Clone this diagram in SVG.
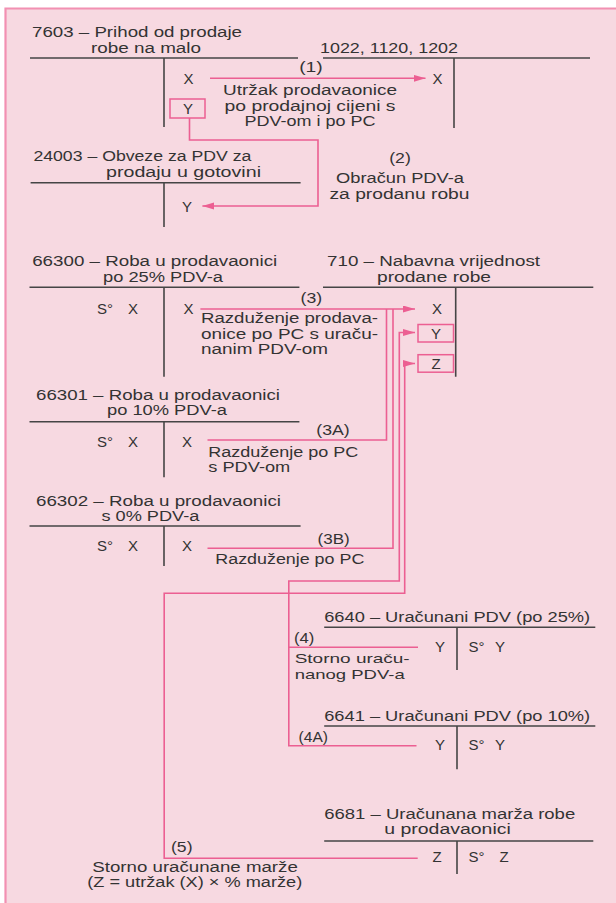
<svg xmlns="http://www.w3.org/2000/svg" width="616" height="903" viewBox="0 0 616 903">
<defs>
<style>
text{font-family:"Liberation Sans",Arial,sans-serif;font-size:14px;fill:#333333}
.m{text-anchor:middle}
.v{font-size:15px}
.s{font-size:13px}
.tl{fill:none;stroke:#454545;stroke-width:1.6}
.cn{fill:none;stroke:#ec5f92;stroke-width:1.6}
.bx{fill:none;stroke:#ec5f92;stroke-width:1.5}
.ar{marker-end:url(#ah)}
</style>
<marker id="ah" markerUnits="userSpaceOnUse" markerWidth="13" markerHeight="8" refX="12" refY="3.5" orient="auto">
<path d="M0,0 L12,3.5 L0,7 z" fill="#ec5f92"/>
</marker>
</defs>
<rect x="5.5" y="8.5" width="611" height="895" fill="#f7d9e1"/>
<path d="M5.5,903 V8.5 H616" fill="none" stroke="#f290b2" stroke-width="2.2"/>

<g id="n7603">
<text x="32" y="37" textLength="210" lengthAdjust="spacingAndGlyphs">7603 – Prihod od prodaje</text>
<text x="91" y="52.5" textLength="110" lengthAdjust="spacingAndGlyphs">robe na malo</text>
<path class="tl" d="M30,58 H298 M164,58 V127"/>
<text class="m v" x="188.6" y="83.5">X</text>
<rect class="bx" x="170" y="99" width="35" height="19"/>
<text class="m v" x="188" y="114">Y</text>
</g>

<g id="n1022">
<text x="320" y="52.5" textLength="138" lengthAdjust="spacingAndGlyphs">1022, 1120, 1202</text>
<path class="tl" d="M323,58 H590 M454,58 V128"/>
<text class="m v" x="437.5" y="83.5">X</text>
</g>

<g id="n24003">
<text x="33.4" y="160.5" textLength="218" lengthAdjust="spacingAndGlyphs">24003 – Obveze za PDV za</text>
<text x="106" y="176.5" textLength="155" lengthAdjust="spacingAndGlyphs">prodaju u gotovini</text>
<path class="tl" d="M30.6,182.7 H300.6 M164,182.7 V227"/>
<text class="m v" x="187" y="211.5">Y</text>
</g>

<g id="n66300">
<text x="32.2" y="266" textLength="245" lengthAdjust="spacingAndGlyphs">66300 – Roba u prodavaonici</text>
<text x="103" y="281.7" textLength="120" lengthAdjust="spacingAndGlyphs">po 25% PDV-a</text>
<path class="tl" d="M29.5,287.3 H299.4 M164,287.3 V376.7"/>
<text class="v" x="97" y="313.5">S°</text>
<text class="m v" x="133" y="313.5">X</text>
<text class="m v" x="188.6" y="313.5">X</text>
</g>

<g id="n710">
<text x="327" y="266" textLength="213" lengthAdjust="spacingAndGlyphs">710 – Nabavna vrijednost</text>
<text x="377" y="281.7" textLength="114" lengthAdjust="spacingAndGlyphs">prodane robe</text>
<path class="tl" d="M323,287.3 H593.3 M455.7,287.3 V376.7"/>
<text class="m v" x="437" y="313.5">X</text>
<rect class="bx" x="418" y="324.5" width="35.5" height="17.5"/>
<text class="m v" x="436" y="339">Y</text>
<rect class="bx" x="418" y="354.7" width="35.5" height="17.5"/>
<text class="m v" x="436" y="369.3">Z</text>
</g>

<g id="n66301">
<text x="36" y="399.5" textLength="244" lengthAdjust="spacingAndGlyphs">66301 – Roba u prodavaonici</text>
<text x="107" y="415" textLength="120" lengthAdjust="spacingAndGlyphs">po 10% PDV-a</text>
<path class="tl" d="M29.5,421.7 H299.4 M164,421.7 V477.3"/>
<text class="v" x="97" y="447">S°</text>
<text class="m v" x="133" y="447">X</text>
<text class="m v" x="187" y="447">X</text>
</g>

<g id="n66302">
<text x="36" y="506" textLength="245" lengthAdjust="spacingAndGlyphs">66302 – Roba u prodavaonici</text>
<text x="101.4" y="521" textLength="98" lengthAdjust="spacingAndGlyphs">s 0% PDV-a</text>
<path class="tl" d="M29.5,526 H300.6 M164,526 V566"/>
<text class="v" x="97" y="551">S°</text>
<text class="m v" x="133" y="551">X</text>
<text class="m v" x="187" y="551">X</text>
</g>

<g id="n6640">
<text x="324.2" y="621.7" textLength="266" lengthAdjust="spacingAndGlyphs">6640 – Uračunani PDV (po 25%)</text>
<path class="tl" d="M324.2,627.3 H595.3 M457,627.3 V670"/>
<text class="m v" x="440" y="652">Y</text>
<text class="v" x="468.5" y="652">S°</text>
<text class="m v" x="500" y="652">Y</text>
</g>

<g id="n6641">
<text x="324.2" y="720.7" textLength="266" lengthAdjust="spacingAndGlyphs">6641 – Uračunani PDV (po 10%)</text>
<path class="tl" d="M324.2,726 H595.3 M457,726 V769.3"/>
<text class="m v" x="440" y="750">Y</text>
<text class="v" x="468.5" y="750">S°</text>
<text class="m v" x="500" y="750">Y</text>
</g>

<g id="n6681">
<text x="324.2" y="819" textLength="251" lengthAdjust="spacingAndGlyphs">6681 – Uračunana marža robe</text>
<text x="384.3" y="834.3" textLength="126.5" lengthAdjust="spacingAndGlyphs">u prodavaonici</text>
<path class="tl" d="M324.2,841 H593.3 M457,841 V874"/>
<text class="m v" x="437" y="862">Z</text>
<text class="v" x="468.5" y="862">S°</text>
<text class="m v" x="504" y="862">Z</text>
</g>

<g id="connectors">
<path class="cn ar" d="M210,78.3 H425.5"/>
<path class="cn ar" d="M189.5,118 V140 H318 V206 H202.4"/>
<path class="cn ar" d="M200.4,309 H415"/>
<path class="cn" d="M207.5,440 H386.5 V309"/>
<path class="cn" d="M207.5,548.3 H393 V309"/>
<path class="cn ar" d="M418,647.3 H288.8 V581 H399.3 V332.5 H415"/>
<path class="cn" d="M416.5,745.7 H288.8 V647.3"/>
<path class="cn ar" d="M417.7,858.3 H164.2 V593.3 H404.7 V363.5 H415"/>
</g>

<g id="labels">
<text class="m" x="311" y="72" textLength="23.6" lengthAdjust="spacingAndGlyphs">(1)</text>
<text class="m" x="310" y="95" textLength="174" lengthAdjust="spacingAndGlyphs">Utržak prodavaonice</text>
<text class="m" x="310" y="110.5" textLength="171" lengthAdjust="spacingAndGlyphs">po prodajnoj cijeni s</text>
<text class="m" x="310" y="126" textLength="131" lengthAdjust="spacingAndGlyphs">PDV-om i po PC</text>
<text class="m" x="400" y="163" textLength="21.6" lengthAdjust="spacingAndGlyphs">(2)</text>
<text class="m" x="400" y="183" textLength="128" lengthAdjust="spacingAndGlyphs">Obračun PDV-a</text>
<text class="m" x="399.5" y="198.5" textLength="140" lengthAdjust="spacingAndGlyphs">za prodanu robu</text>
<text class="m" x="311.4" y="303.3" textLength="21.6" lengthAdjust="spacingAndGlyphs">(3)</text>
<text x="201" y="323.3" textLength="177" lengthAdjust="spacingAndGlyphs">Razduženje prodava-</text>
<text x="201" y="338.5" textLength="177" lengthAdjust="spacingAndGlyphs">onice po PC s uraču-</text>
<text x="201" y="354" textLength="127" lengthAdjust="spacingAndGlyphs">nanim PDV-om</text>
<text class="m" x="333" y="435" textLength="33.4" lengthAdjust="spacingAndGlyphs">(3A)</text>
<text x="208.3" y="457.3" textLength="150" lengthAdjust="spacingAndGlyphs">Razduženje po PC</text>
<text x="208.3" y="472.3" textLength="82" lengthAdjust="spacingAndGlyphs">s PDV-om</text>
<text class="m" x="333.6" y="544" textLength="32.2" lengthAdjust="spacingAndGlyphs">(3B)</text>
<text x="215.3" y="564" textLength="149" lengthAdjust="spacingAndGlyphs">Razduženje po PC</text>
<text x="294" y="643.3" textLength="20.3" lengthAdjust="spacingAndGlyphs">(4)</text>
<text class="s" x="294.7" y="663" textLength="115" lengthAdjust="spacingAndGlyphs">Storno uraču-</text>
<text class="s" x="294.7" y="678.5" textLength="110" lengthAdjust="spacingAndGlyphs">nanog PDV-a</text>
<text x="298.6" y="741.7" textLength="29.4" lengthAdjust="spacingAndGlyphs">(4A)</text>
<text x="171" y="851.7" textLength="21.5" lengthAdjust="spacingAndGlyphs">(5)</text>
<text x="92.3" y="871.7" textLength="205.5" lengthAdjust="spacingAndGlyphs">Storno uračunane marže</text>
<text x="87.2" y="886.7" textLength="215" lengthAdjust="spacingAndGlyphs">(Z = utržak (X) × % marže)</text>
</g>
</svg>
